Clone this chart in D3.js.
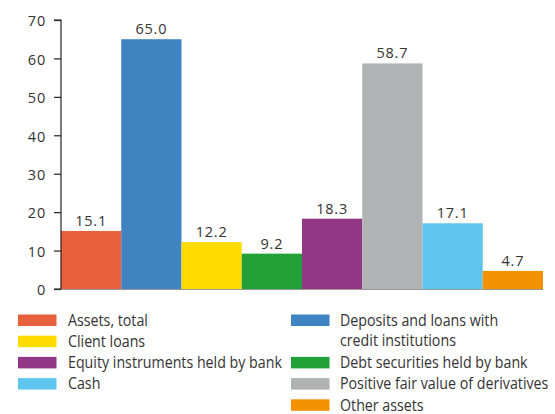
<!DOCTYPE html>
<html><head><meta charset="utf-8">
<script src="https://cdn.jsdelivr.net/npm/d3@7"></script>
<style>
body{margin:0;background:#fff;}
text{font-family:"Open Sans","Noto Sans",sans-serif;fill:#333;}
</style></head>
<body>
<svg id="chart" width="555" height="414"></svg>
<script>
// Asset structure, values per category
const categories = ["Assets, total","Deposits and loans with credit institutions","Client loans","Debt securities held by bank","Equity instruments held by bank","Positive fair value of derivatives","Cash","Other assets"];
const values = [15.1, 65.0, 12.2, 9.2, 18.3, 58.7, 17.1, 4.7];
const colors = ["#E8603C","#3F84C1","#FFDB00","#21A038","#923786","#B1B2B4","#5EC5ED","#F39200"];
const yTicks = [0,10,20,30,40,50,60,70];

// Legend layout: column and row for each category
const legendCol = [0,1,0,1,0,1,0,1];
const legendRow = [0,0,1,2,2,3,3,4];
const legendLines = {1:["Deposits and loans with","credit institutions"]};

const svg = d3.select("#chart");
const x0 = 61, x1 = 543, yTop = 20, yBase = 289;

const x = d3.scaleBand().domain(categories).range([x0, x1]).padding(0);
const y = d3.scaleLinear().domain([0,70]).range([yBase, yTop]);

// Bars
svg.selectAll("rect.bar").data(values).join("rect")
  .attr("class","bar")
  .attr("x",(d,i)=>x(categories[i]))
  .attr("width",x.bandwidth())
  .attr("y",d=>y(d))
  .attr("height",d=>y(0)-y(d))
  .attr("fill",(d,i)=>colors[i]);

// Value labels
svg.selectAll("text.val").data(values).join("text")
  .attr("class","val")
  .attr("x",(d,i)=>x(categories[i])+x.bandwidth()/2)
  .attr("y",d=>y(d)-5)
  .attr("text-anchor","middle")
  .attr("font-size",14.5)
  .attr("letter-spacing",0.8)
  .text(d=>d.toFixed(1));

// Y axis
const yAxis = d3.axisLeft(y).tickValues(yTicks).tickSize(7).tickPadding(8).tickFormat(d3.format("d"));
const ag = svg.append("g").attr("transform",`translate(${x0},0)`).call(yAxis);
ag.select(".domain").attr("stroke","#222").attr("stroke-width",1.2).attr("d",`M-7,${yTop}H0V${yBase}H-7`);
ag.selectAll(".tick line").attr("stroke","#222").attr("stroke-width",1.2);
ag.selectAll(".tick text").attr("font-size",14.5).attr("letter-spacing",0.8).attr("fill","#333")
  .attr("dy","0.4em")
  .style("font-family","'Open Sans','Noto Sans',sans-serif");

// Baseline
svg.append("line").attr("x1",x0).attr("x2",x1).attr("y1",yBase+0.5).attr("y2",yBase+0.5)
  .attr("stroke","#999").attr("stroke-width",1);

// Legend
const colX = [18, 291], colTextX = [68, 340], rowY0 = 314.5, rowH = 21.2;
const lg = svg.append("g");
categories.forEach((c,i)=>{
  const col = legendCol[i];
  const sy = rowY0 + legendRow[i]*rowH;
  lg.append("rect").attr("x",colX[col]).attr("y",sy).attr("width",38.5).attr("height",11.5).attr("fill",colors[i]);
  const lines = legendLines[i] || [c];
  lines.forEach((t,k)=>{
    lg.append("text")
      .attr("transform",`translate(${colTextX[col]},${sy+11.3+k*rowH*0.97}) scale(0.89,1)`)
      .attr("font-size",16).attr("fill","#2a2a2a").text(t);
  });
});
</script>
</body></html>
